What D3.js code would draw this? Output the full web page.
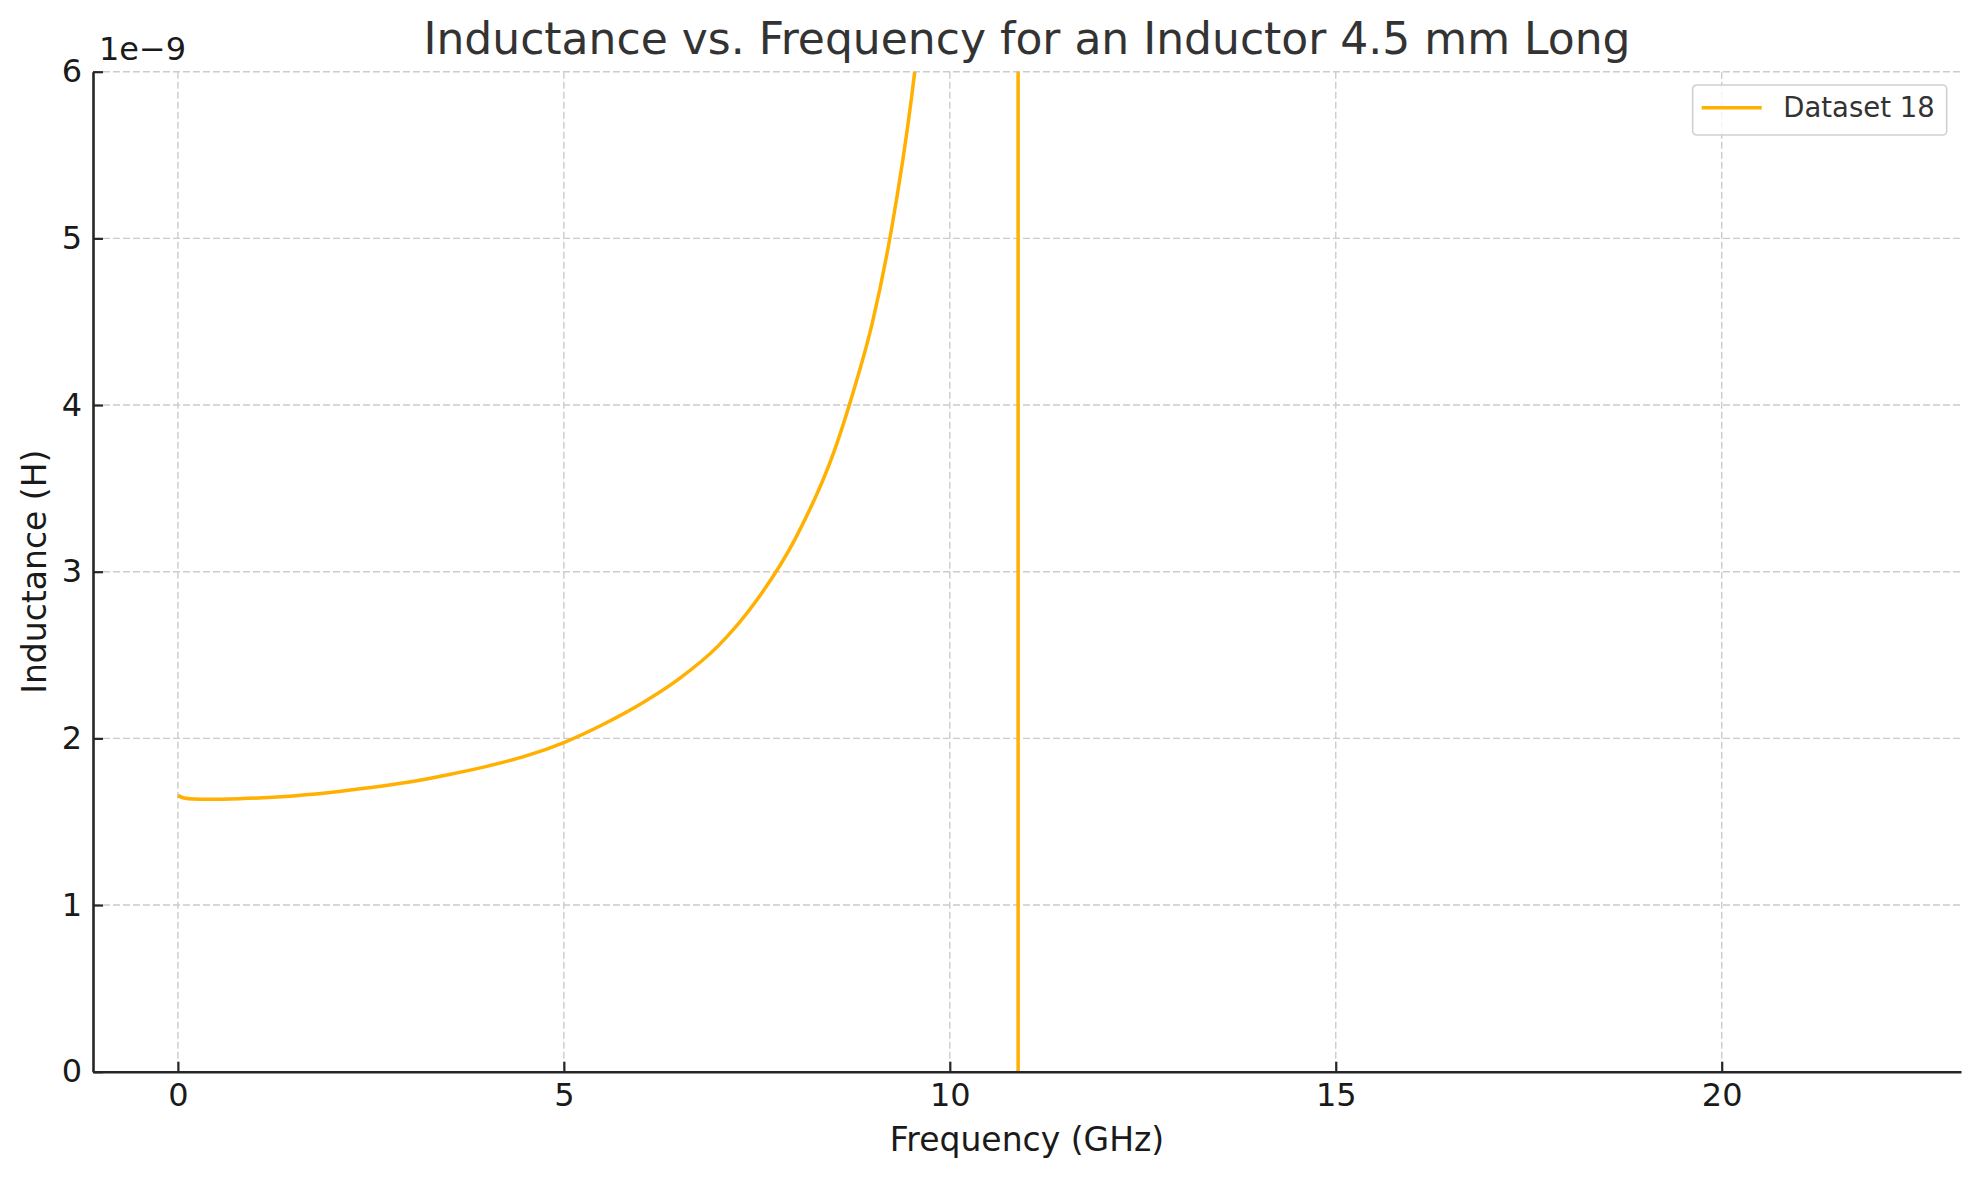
<!DOCTYPE html>
<html>
<head>
<meta charset="utf-8">
<script src="https://cdn.jsdelivr.net/npm/d3@7"></script>
<style>
  body { margin: 0; background: #ffffff; }
  svg text { font-family: "DejaVu Sans", sans-serif; }
</style>
</head>
<body>
<div class="chart"></div>
<script>
// data (frequency in GHz, inductance in nH)
var frequencyGHz = [0.00, 0.08, 0.20, 0.40, 0.80, 1.34, 2.00, 2.50, 3.00, 3.50, 4.00, 4.50,
    5.00, 5.50, 6.00, 6.50, 7.00, 7.50, 8.00, 8.50, 8.75, 9.00, 9.25, 9.50, 9.75,
    10.00, 10.25, 10.50, 10.70, 10.88, 10.89, 11.20, 11.60, 12.50, 14.00, 16.00,
    18.00, 20.00, 22.00];
var inductanceNH = [1.658, 1.642, 1.636, 1.634, 1.638, 1.650, 1.677, 1.705, 1.738, 1.782, 1.832, 1.893,
    1.975, 2.082, 2.208, 2.360, 2.555, 2.830, 3.200, 3.720, 4.080, 4.500, 5.070, 5.830, 6.900,
    8.6, 11.5, 17, 28, 120, -120, -25, -12, -6, -3.5, -2.5,
    -2.0, -1.7, -1.5];
var xTicks = [0, 5, 10, 15, 20];
var yTicks = [0, 1, 2, 3, 4, 5, 6];
var seriesName = "Dataset 18";

var svgWidth = 1980;
var svgHeight = 1180;

var margin = {
    top: 71.7,
    right: 19,
    bottom: 108.3,
    left: 93
};

var width = svgWidth - margin.left - margin.right;
var height = svgHeight - margin.top - margin.bottom;

var svg = d3.select(".chart")
    .append("svg")
    .attr("width", svgWidth)
    .attr("height", svgHeight);

var chartGroup = svg.append("g")
    .attr("transform", `translate(${margin.left}, ${margin.top})`);

// x has 5% padding each side of 0..22, y is fixed 0..6
var xLinearScale = d3.scaleLinear()
    .domain([-1.1, 23.1])
    .range([0, width]);

var yLinearScale = d3.scaleLinear()
    .domain([0, 6])
    .range([height, 0]);

// dashed grid
chartGroup.append("g")
    .selectAll("line")
    .data(xTicks)
    .enter()
    .append("line")
    .attr("x1", d => xLinearScale(d))
    .attr("x2", d => xLinearScale(d))
    .attr("y1", 0)
    .attr("y2", height)
    .attr("stroke", "#cccccc")
    .attr("stroke-width", 1.4)
    .attr("stroke-dasharray", "7,3");

chartGroup.append("g")
    .selectAll("line")
    .data(yTicks)
    .enter()
    .append("line")
    .attr("x1", 0)
    .attr("x2", width)
    .attr("y1", d => yLinearScale(d))
    .attr("y2", d => yLinearScale(d))
    .attr("stroke", "#cccccc")
    .attr("stroke-width", 1.4)
    .attr("stroke-dasharray", "7,3");

// clip the curve to the plot area
svg.append("defs")
    .append("clipPath")
    .attr("id", "plot-clip")
    .append("rect")
    .attr("width", width)
    .attr("height", height);

var points = frequencyGHz.map((f, i) => [f, inductanceNH[i]]);

var line = d3.line()
    .x(d => xLinearScale(d[0]))
    .y(d => yLinearScale(d[1]))
    .curve(d3.curveMonotoneX);

chartGroup.append("path")
    .datum(points)
    .attr("clip-path", "url(#plot-clip)")
    .attr("d", line)
    .attr("fill", "none")
    .attr("stroke", "#ffb000")
    .attr("stroke-width", 3.5)
    .attr("stroke-linejoin", "round");

// axes, ticks point inward
var bottomAxis = d3.axisBottom(xLinearScale)
    .tickValues(xTicks)
    .tickFormat(d3.format("d"))
    .tickSizeInner(-10)
    .tickSizeOuter(0)
    .tickPadding(12);

var leftAxis = d3.axisLeft(yLinearScale)
    .tickValues(yTicks)
    .tickFormat(d3.format("d"))
    .tickSizeInner(-10)
    .tickSizeOuter(0)
    .tickPadding(11);

var xAxis = chartGroup.append("g")
    .attr("transform", `translate(0, ${height})`)
    .call(bottomAxis);

var yAxis = chartGroup.append("g")
    .call(leftAxis);

[xAxis, yAxis].forEach(function(ax) {
    ax.select(".domain").attr("stroke", "#262626").attr("stroke-width", 2.6);
    ax.selectAll(".tick line").attr("stroke", "#262626").attr("stroke-width", 2.2);
    ax.selectAll(".tick text")
        .attr("fill", "#1a1a1a")
        .style("font-size", "32px");
});

// offset text for the y axis
chartGroup.append("text")
    .attr("x", 6)
    .attr("y", -12)
    .attr("fill", "#1a1a1a")
    .style("font-size", "32px")
    .text("1e\u22129");

// axis labels
chartGroup.append("text")
    .attr("x", width / 2)
    .attr("y", height + 79)
    .attr("text-anchor", "middle")
    .attr("fill", "#1a1a1a")
    .style("font-size", "33px")
    .text("Frequency (GHz)");

chartGroup.append("text")
    .attr("transform", `translate(${46 - margin.left}, ${height / 2}) rotate(-90)`)
    .attr("text-anchor", "middle")
    .attr("fill", "#1a1a1a")
    .style("font-size", "33px")
    .text("Inductance (H)");

// title
svg.append("text")
    .attr("x", margin.left + width / 2)
    .attr("y", 54)
    .attr("text-anchor", "middle")
    .attr("fill", "#333333")
    .style("font-size", "44px")
    .text("Inductance vs. Frequency for an Inductor 4.5 mm Long");

// legend
var legend = svg.append("g")
    .attr("transform", "translate(1692.7, 85)");

legend.append("rect")
    .attr("width", 254)
    .attr("height", 50)
    .attr("rx", 4)
    .attr("fill", "#ffffff")
    .attr("fill-opacity", 0.8)
    .attr("stroke", "#d0d0d0")
    .attr("stroke-width", 1.6);

legend.append("line")
    .attr("x1", 9)
    .attr("x2", 69)
    .attr("y1", 22.7)
    .attr("y2", 22.7)
    .attr("stroke", "#ffb000")
    .attr("stroke-width", 3.5);

legend.append("text")
    .attr("x", 90.6)
    .attr("y", 31.7)
    .attr("fill", "#333333")
    .style("font-size", "27.5px")
    .text(seriesName);
</script>
</body>
</html>
